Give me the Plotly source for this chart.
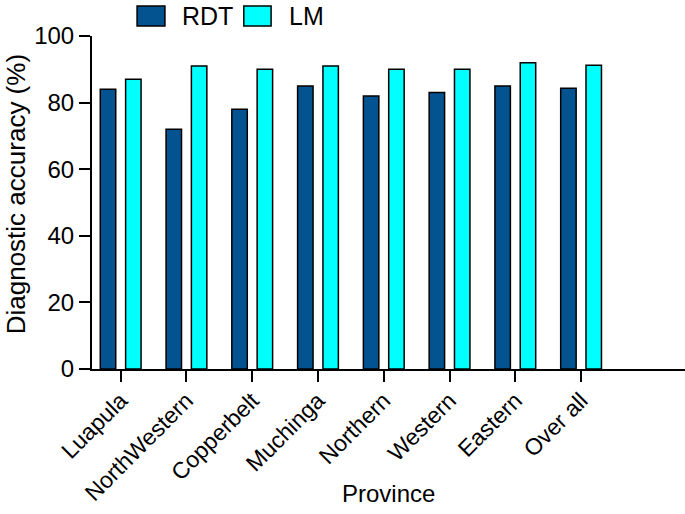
import plotly.graph_objects as go

provinces = ["Luapula", "NorthWestern", "Copperbelt", "Muchinga", "Northern", "Western", "Eastern", "Over all"]
rdt = [84, 72, 78, 85, 82, 83, 85, 84.3]
lm = [87, 91, 90, 91, 90, 90, 92, 91.2]
y_ticks = [0, 20, 40, 60, 80, 100]

RDT_COLOR = "#02538F"
LM_COLOR = "#00FFFF"
FONT = "Liberation Sans, Arial, sans-serif"

fig = go.Figure()
fig.add_trace(go.Bar(x=provinces, y=rdt, name="RDT", marker=dict(color=RDT_COLOR, line=dict(color="black", width=1.5)),
                     width=0.235, offset=-0.31))
fig.add_trace(go.Bar(x=provinces, y=lm, name="LM", marker=dict(color=LM_COLOR, line=dict(color="black", width=1.5)),
                     width=0.235, offset=0.075))

fig.update_layout(
    width=685, height=514,
    margin=dict(l=92, r=0, t=36, b=145),
    barmode="overlay",
    showlegend=False,
    plot_bgcolor="white", paper_bgcolor="white",
    font=dict(family=FONT, color="black", size=23),
)
fig.update_xaxes(
    range=[-0.436, 8.58], showline=True, linecolor="black", linewidth=2,
    ticks="outside", ticklen=11, tickwidth=2, tickcolor="black",
    tickangle=-45, tickfont=dict(size=23), automargin=False, ticklabelstandoff=-4,
    showgrid=False, zeroline=False,
)
fig.update_yaxes(
    range=[0, 100], tickvals=y_ticks, showline=True, linecolor="black", linewidth=2,
    ticks="outside", ticklen=11, tickwidth=2, tickcolor="black",
    tickfont=dict(size=24), automargin=False,
    showgrid=False, zeroline=False,
)

# axis titles
fig.add_annotation(xref="paper", yref="paper", x=0.5, y=-0.375, text="Province", showarrow=False,
                   xanchor="center", yanchor="middle", font=dict(size=24))
fig.add_annotation(xref="paper", yref="paper", x=-0.128, y=0.525, text="Diagnostic accuracy (%)", showarrow=False,
                   textangle=-90, xanchor="center", yanchor="middle", font=dict(size=26))

# legend drawn manually to match large swatches
legend_items = [("RDT", RDT_COLOR, 0.076, 0.123, 0.148), ("LM", LM_COLOR, 0.256, 0.302, 0.329)]
for name, col, x0, x1, xt in legend_items:
    fig.add_shape(type="rect", xref="paper", yref="paper", x0=x0, x1=x1, y0=1.03, y1=1.09,
                  fillcolor=col, line=dict(color="black", width=1.5))
    fig.add_annotation(xref="paper", yref="paper", x=xt, y=1.06, text=name, showarrow=False,
                       xanchor="left", yanchor="middle", font=dict(size=25))

fig.write_html("out.html", config={"displayModeBar": False},
               post_script="document.body.style.margin='0';")
